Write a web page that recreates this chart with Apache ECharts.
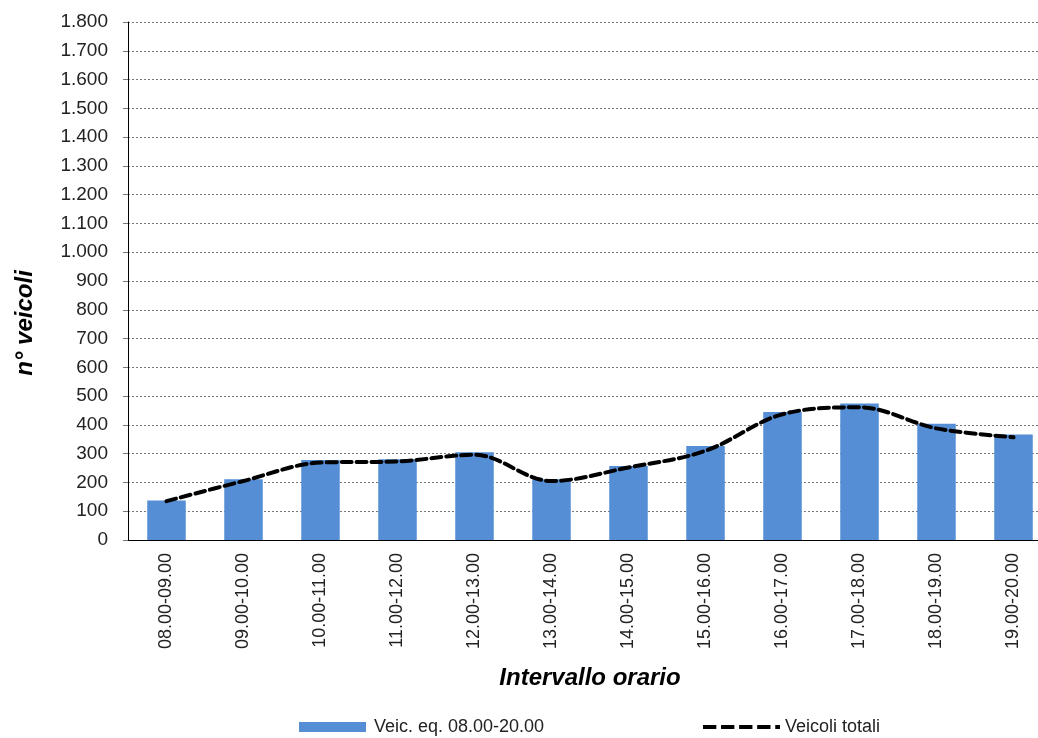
<!DOCTYPE html>
<html>
<head>
<meta charset="utf-8">
<script src="https://cdn.jsdelivr.net/npm/echarts@6/dist/echarts.min.js"></script>
<style>
html,body{margin:0;padding:0;background:#fff;overflow:hidden;width:1038px;height:738px;}
#chart{width:1052px;height:738px;}
</style>
</head>
<body>
<div id="chart"></div>
<script>
const categories = ['08.00-09.00','09.00-10.00','10.00-11.00','11.00-12.00','12.00-13.00','13.00-14.00','14.00-15.00','15.00-16.00','16.00-17.00','17.00-18.00','18.00-19.00','19.00-20.00'];
const barValues = [137, 211, 278, 281, 305, 211, 257, 327, 445, 474, 404, 367];
const lineValues = [135, 205, 269, 273, 296, 205, 252, 310, 437, 461, 388, 357];
const barName = 'Veic. eq. 08.00-20.00';
const lineName = 'Veicoli totali';
const yMin = 0, yMax = 1800, yStep = 100;
const yTitle = 'n° veicoli';
const xTitle = 'Intervallo orario';

const FONT = '"Liberation Sans", Arial, sans-serif';
const dashIcon = 'path://M0 0h14v4h-14z M19 0h14v4h-14z M38 0h14v4h-14z M57 0h14v4h-14z M76 0h5v4h-5z';
const chart = echarts.init(document.getElementById('chart'));
chart.setOption({
  animation: false,
  backgroundColor: '#fff',
  textStyle: { fontFamily: FONT },
  grid: { left: 128, top: 22, right: 0, bottom: 198, containLabel: false },
  legend: [
    {
      data: [{ name: barName, icon: 'rect' }], left: 299, top: 718, padding: 0, itemWidth: 67, itemHeight: 10,
      textStyle: { fontFamily: FONT, fontSize: 18, color: '#222', padding: [0,0,0,3] }
    },
    {
      data: [{ name: lineName, icon: dashIcon }], left: 703, top: 718, padding: 0, itemWidth: 77, itemHeight: 4,
      textStyle: { fontFamily: FONT, fontSize: 18, color: '#222', padding: [0,0,0,0] }
    }
  ],
  xAxis: {
    type: 'category',
    data: categories,
    name: xTitle,
    nameLocation: 'middle',
    nameGap: 126,
    nameTextStyle: { fontFamily: FONT, fontSize: 24, fontWeight: 'bold', fontStyle: 'italic', color: '#000' },
    axisLine: { lineStyle: { color: '#000', width: 1 } },
    axisTick: { show: false },
    axisLabel: { rotate: 90, margin: 13, fontSize: 18, color: '#222', fontFamily: FONT }
  },
  yAxis: {
    type: 'value',
    min: yMin, max: yMax, interval: yStep,
    axisLine: { show: true, lineStyle: { color: '#000', width: 1 } },
    axisTick: { show: true, length: 5, lineStyle: { color: '#777' } },
    axisLabel: {
      margin: 20, fontSize: 19, color: '#222', fontFamily: FONT,
      formatter: v => v.toString().replace(/\B(?=(\d{3})+(?!\d))/g, '.')
    },
    splitLine: { lineStyle: { color: '#777', type: [2, 2], width: 1 } }
  },
  graphic: [
    {
      type: 'text', x: 25, y: 323, rotation: Math.PI / 2,
      style: { text: yTitle, font: 'italic bold 24px ' + FONT, fill: '#000', align: 'center', verticalAlign: 'middle' }
    }
  ],
  series: [
    {
      name: barName, type: 'bar', data: barValues, barWidth: '50%',
      itemStyle: { color: '#558ed5' }
    },
    {
      name: lineName, type: 'line', data: lineValues, smooth: 0.35,
      symbol: 'none',
      lineStyle: { color: '#000', width: 4, type: [10, 5], cap: 'round' },
      itemStyle: { color: '#000' }
    }
  ]
});
</script>
</body>
</html>
